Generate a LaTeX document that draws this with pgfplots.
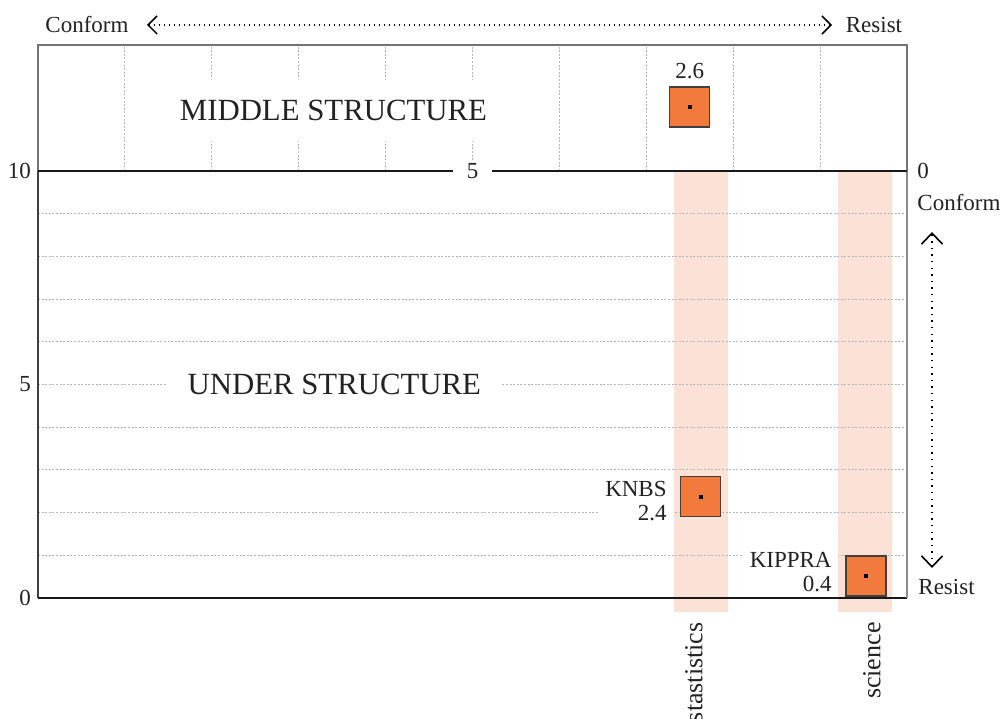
\documentclass[border=0pt]{standalone}
\usepackage{fontspec}
\setmainfont{Liberation Serif}
\usepackage{pgfplots}
\pgfplotsset{compat=1.18}
\usetikzlibrary{arrows.meta}
\definecolor{sq}{HTML}{F27A3C}
\definecolor{band}{HTML}{FCE2D6}
\definecolor{txt}{HTML}{222222}
\definecolor{gridc}{HTML}{B4B4B4}
\begin{document}
\begin{tikzpicture}[font=\fontsize{11.5}{12}\selectfont, text=txt]
% ---------- top panel (middle structure) ----------
\begin{axis}[name=top, at={(0,213.5pt)}, anchor=south west, scale only axis,
  width=434.5pt, height=63pt,
  xmin=0, xmax=10, x dir=reverse, ymin=0, ymax=1,
  xtick={1,...,9}, xticklabels={}, ytick=\empty,
  xmajorgrids, major grid style={gridc, line width=0.45pt, dash pattern=on 1pt off 0.8pt},
  major tick length=0, axis line style={draw=none}, clip=false]
  \draw[black!55, line width=0.55pt] (rel axis cs:0,0) -- (rel axis cs:0,1) -- (rel axis cs:1,1) -- (rel axis cs:1,0);
  \node[fill=white, inner xsep=10pt, inner ysep=10.3pt, font=\fontsize{15.4}{17}\selectfont] at (axis cs:6.6,0.48) {MIDDLE STRUCTURE};
  \addplot[only marks, mark=square*, mark size=10pt, mark options={fill=sq, draw=black!75, line width=0.6pt}] coordinates {(2.5,0.508)};
  \addplot[only marks, mark=square*, mark size=0.75pt, black] coordinates {(2.5,0.508)};
  \node at (axis cs:2.5,0.79) {2.6};
\end{axis}
% ---------- lower panel (under structure) ----------
\begin{axis}[name=low, at={(0,0)}, anchor=south west, scale only axis,
  width=434.5pt, height=213.5pt, set layers,
  xmin=0, xmax=10, ymin=0, ymax=10, clip=false,
  axis line style={draw=none},
  ytick={0,...,10}, yticklabels={0,,,,,5,,,,,10},
  ymajorgrids, major grid style={gridc, line width=0.45pt, dash pattern=on 1pt off 0.8pt},
  major tick length=0,
  xtick={7.549,9.597}, xticklabels={stastistics,science},
  xticklabel style={rotate=90, anchor=east, inner sep=0pt, font=\fontsize{13}{15}\selectfont},
  xticklabel shift=12pt,
  yticklabel style={font=\fontsize{11.5}{12}\selectfont}]
  \addplot[fill=band, draw=none, on layer=axis background] coordinates {(7.319,-0.328) (7.940,-0.328) (7.940,10) (7.319,10)} -- cycle;
  \addplot[fill=band, draw=none, on layer=axis background] coordinates {(9.206,-0.328) (9.827,-0.328) (9.827,10) (9.206,10)} -- cycle;
  \draw[black!75, line width=0.6pt] (rel axis cs:0,0) -- (rel axis cs:0,1);
  \draw[black!90, line width=0.7pt] (rel axis cs:0,0) -- (rel axis cs:1,0);
  \draw[black!45, line width=0.9pt] (rel axis cs:1,0) -- (rel axis cs:1,1);
  \draw[black!90, line width=1.1pt] (rel axis cs:0,1) -- (rel axis cs:1,1);
  \node[fill=white, inner xsep=7pt, inner ysep=1pt] at (axis cs:5,10) {5};
  \node[fill=white, inner xsep=10pt, font=\fontsize{15.4}{17}\selectfont] at (axis cs:3.41,5) {UNDER STRUCTURE};
  \node[anchor=east, align=right, fill=white, inner xsep=3.5pt, inner ysep=2pt] at (axis cs:7.319,2.276) {KNBS\\2.4};
  \node[anchor=east, align=right, fill=white, inner xsep=3pt, inner ysep=2pt] at (axis cs:9.206,0.597) {KIPPRA\\0.4};
  \addplot[only marks, mark=square*, mark size=10pt, mark options={fill=sq, draw=black!75, line width=0.6pt}] coordinates {(7.626,2.37) (9.528,0.515)};
  \addplot[only marks, mark=square*, mark size=0.75pt, black] coordinates {(7.626,2.37) (9.528,0.515)};
\end{axis}
% ---------- scale annotations ----------
\draw[line width=0.6pt, dash pattern=on 0.6pt off 1.9pt, {Straight Barb[length=4.5pt,width=9pt,line width=0.75pt]}-{Straight Barb[length=4.5pt,width=9pt,line width=0.75pt]}] (54.5pt,286.5pt) -- (397pt,286.5pt);
\node at (24.5pt,286.5pt) {Conform};
\node at (418pt,286.5pt) {Resist};
\draw[line width=0.7pt, dash pattern=on 0.7pt off 2.6pt, {Straight Barb[length=5.5pt,width=10.5pt,line width=0.8pt]}-{Straight Barb[length=5.5pt,width=10.5pt,line width=0.8pt]}] (447pt,15pt) -- (447pt,183pt);
\node[anchor=west, inner sep=0pt] at (439.5pt,213.5pt) {0};
\node[anchor=west, inner sep=0pt] at (439.5pt,197.5pt) {Conform};
\node[anchor=west, inner sep=0pt] at (440pt,5.5pt) {Resist};
\pgfresetboundingbox
\useasboundingbox (-19pt,-60pt) rectangle (483.5pt,299pt);
\end{tikzpicture}
\end{document}
